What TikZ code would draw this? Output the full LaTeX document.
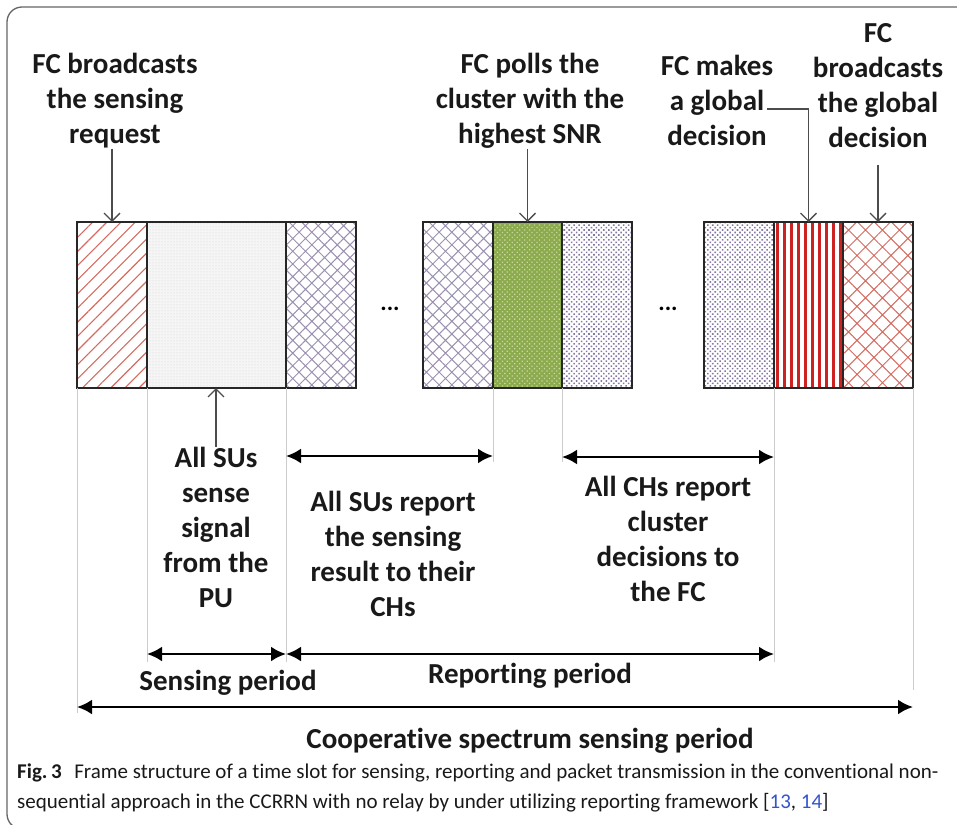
\documentclass[tikz,border=0pt]{standalone}
\usepackage{fontspec}
\setmainfont{Carlito}[Ligatures={NoCommon,NoContextual}]
\usetikzlibrary{arrows.meta,patterns.meta,calc}

\definecolor{hatchred}{HTML}{D46A5F}
\definecolor{hatchviolet}{HTML}{9A90B0}
\definecolor{dotviolet}{HTML}{8576A2}
\definecolor{stripered}{HTML}{CC2222}
\definecolor{leafgreen}{HTML}{8CAA4E}
\definecolor{leafdot}{HTML}{C9DA9E}
\definecolor{citeblue}{HTML}{3355CC}

\begin{document}
\begin{tikzpicture}[x=1pt,y=-1pt,
  slot/.style={draw=black!85, line width=1.6pt, minimum height=166pt,
    inner sep=0pt, outer sep=0pt, anchor=north west},
  lbl/.style={font=\fontsize{29}{35}\selectfont\bfseries, align=center,
    text=black!90, inner sep=0pt},
  pointer/.style={draw=black!70, line width=1.3pt,
    -{Straight Barb[length=8pt,width=16pt,line width=1.3pt]}},
  dimspan/.style={draw=black, line width=2.6pt,
    {Latex[length=15pt,width=15pt]}-{Latex[length=15pt,width=15pt]}},
  guide/.style={draw=black!20, line width=1pt},
  ellip/.style={font=\fontsize{24}{24}\selectfont\bfseries, inner sep=0pt},
  captext/.style={anchor=base west, inner sep=0pt,
    font=\fontsize{21}{21}\selectfont, text=black!90},
]
\useasboundingbox (0,0) rectangle (957,824);
\clip (0,0) rectangle (957,824);

% outer frame of the figure panel
\draw[draw=black!60, line width=1.3pt, rounded corners=15pt]
  (990,7) -- (7,7) -- (7,829) -- (990,829);

% time slots of the frame
\node[slot, minimum width=70pt, pattern={Lines[angle=45,distance=10pt,line width=1.1pt]},
  pattern color=hatchred] (box1) at (77,222) {};
\node[slot, minimum width=139pt, preaction={fill=black!4},
  pattern={Dots[distance=3pt,radius=0.5pt]}, pattern color=black!18] (box2) at (147,222) {};
\node[slot, minimum width=70pt, pattern={Hatch[angle=45,distance=9pt,line width=1pt]},
  pattern color=hatchviolet] (box3) at (286,222) {};
\node[slot, minimum width=70pt, pattern={Hatch[angle=45,distance=9pt,line width=1pt]},
  pattern color=hatchviolet] (box4) at (423,222) {};
\node[slot, minimum width=69pt, preaction={fill=leafgreen},
  pattern={Dots[distance=3.5pt,radius=0.9pt,angle=45]}, pattern color=leafdot] (box5) at (493,222) {};
\node[slot, minimum width=70pt, pattern={Dots[distance=3.5pt,radius=1.1pt,angle=45]},
  pattern color=dotviolet] (box6) at (562,222) {};
\node[slot, minimum width=70pt, pattern={Dots[distance=3.5pt,radius=1.1pt,angle=45]},
  pattern color=dotviolet] (box7) at (704,222) {};
\node[slot, minimum width=69pt, pattern={Lines[angle=90,distance=7pt,line width=3pt]},
  pattern color=stripered] (box8) at (774,222) {};
\node[slot, minimum width=70pt, pattern={Hatch[angle=45,distance=12pt,line width=1pt]},
  pattern color=hatchred] (box9) at (843,222) {};

\node[ellip] (gap1) at (390,309) {...};
\node[ellip] (gap2) at (668,309) {...};

% guide lines below the slot borders
\draw[guide] (box1.south west) -- (box1.south west |- 0,713);
\draw[guide] (box2.south west) -- (box2.south west |- 0,662);
\draw[guide] (box3.south west) -- (box3.south west |- 0,662);
\draw[guide] (box5.south west) -- (box5.south west |- 0,462);
\draw[guide] (box6.south west) -- (box6.south west |- 0,462);
\draw[guide] (box8.south west) -- (box8.south west |- 0,662);
\draw[guide] (box9.south east) -- (box9.south east |- 0,690);

% labels above the frame
\node[lbl] (t1) at (115,101) {FC broadcasts\\the sensing\\request};
\node[lbl] (t2) at (530,101) {FC polls the\\cluster with the\\highest SNR};
\node[lbl] (t3) at (717,100) {FC makes\\a global\\decision};
\node[lbl] (t4) at (878,86) {FC\\broadcasts\\the global\\decision};

\coordinate (t3end) at (767,109);
\draw[pointer] (box1.north |- t1.south) -- (box1.north);
\draw[pointer] (box5.north |- t2.south) -- (box5.north);
\draw[pointer] (t3end) -| (box8.north);
\draw[pointer] (box9.north |- 0,165) -- (box9.north);

% labels below the frame
\node[lbl] (s1) at (216,527) {All SUs\\sense\\signal\\from the\\PU};
\node[lbl] (s2) at (393,554) {All SUs report\\the sensing\\result to their\\CHs};
\node[lbl] (s3) at (668,539) {All CHs report\\cluster\\decisions to\\the FC};

\draw[pointer] (s1.north) -- (s1.north |- box2.south);
\draw[dimspan] (box3.south west |- 0,456) -- (box5.south west |- 0,456);
\draw[dimspan] (box6.south west |- 0,457) -- (box8.south west |- 0,457);

% period spans
\draw[dimspan] (box2.south west |- 0,654) -- (box3.south west |- 0,654);
\draw[dimspan] (box3.south west |- 0,654) -- (box8.south west |- 0,654);
\draw[dimspan] (box1.south west |- 0,707) -- (box9.south east |- 0,707);

\node[lbl] (p1) at (228,683) {Sensing period};
\node[lbl] (p2) at (530,676) {Reporting period};
\node[lbl] (p3) at (530,741) {Cooperative spectrum sensing period};

% caption
\node[captext] (cap1) at (17,778)
  {\textbf{Fig.\,3}\hspace{0.6em}Frame structure of a time slot for sensing, reporting and packet transmission in the conventional non-};
\node[captext] (cap2) at (17,808)
  {sequential approach in the CCRRN with no relay by under utilizing reporting framework [\textcolor{citeblue}{13}, \textcolor{citeblue}{14}]};
\end{tikzpicture}
\end{document}
